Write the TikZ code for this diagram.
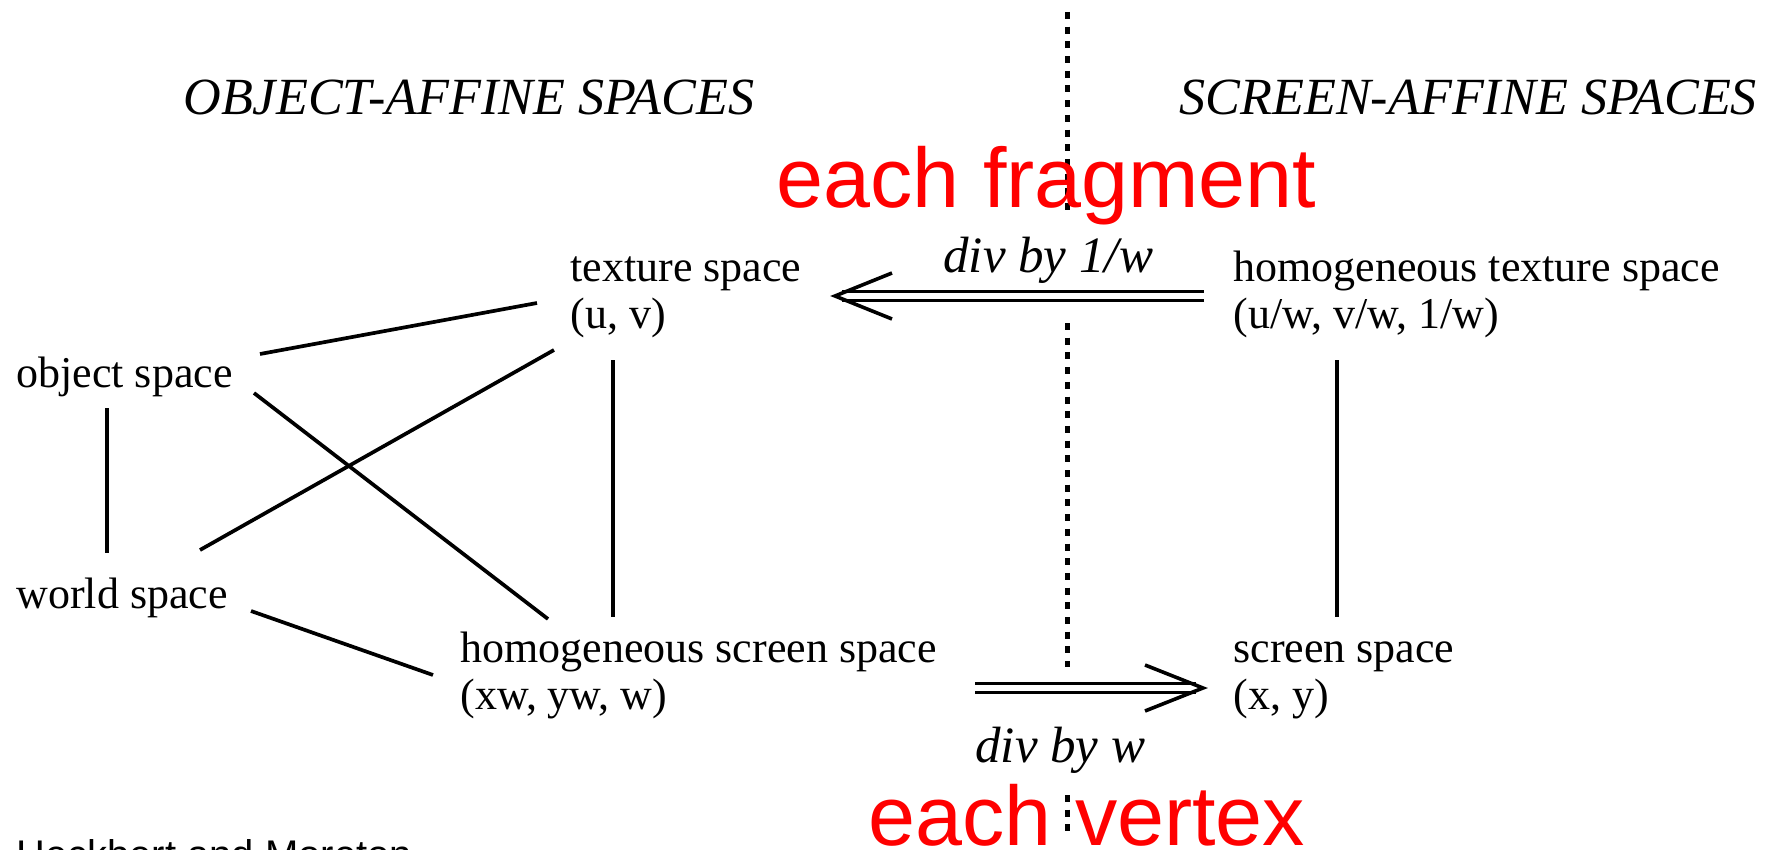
\documentclass[tikz,border=0pt]{standalone}
\usepackage{fontspec}
\setmainfont{Liberation Serif}
\newfontfamily\redsans{Liberation Sans}
\begin{document}
\begin{tikzpicture}[x=0.5pt,y=-0.5pt,
  lbl/.style={inner sep=0pt, anchor=base west, font=\fontsize{22}{23.5}\selectfont},
  head/.style={inner sep=0pt, anchor=base west, font=\fontsize{26.1}{28}\selectfont\itshape},
  divlbl/.style={inner sep=0pt, anchor=base west, font=\fontsize{25.5}{28}\selectfont\itshape},
  redlbl/.style={inner sep=0pt, anchor=base west, text=red, font=\redsans\fontsize{42.25}{48}\selectfont},
  heck/.style={inner sep=0pt, anchor=base west, font=\redsans\fontsize{20}{24}\selectfont},
  conn/.style={line width=1.85pt},
  sepline/.style={line width=2.5pt, dash pattern=on 3.5pt off 3.85pt},
  dbl/.style={line width=1.7pt, double, double distance=2.8pt},
  barb/.style={line width=1.8pt}
]
\useasboundingbox (0,0) rectangle (1772,850);
\clip (0,0) rectangle (1772,850);
\fill[white] (0,0) rectangle (1772,850);

% separator (dotted)
\coordinate (d1a) at (1067,12);  \coordinate (d1b) at (1067,212);
\coordinate (d2a) at (1067,323); \coordinate (d2b) at (1067,667);
\coordinate (d3a) at (1067,795); \coordinate (d3b) at (1067,835);
\draw[sepline] (d1a) -- (d1b);
\draw[sepline] (d2a) -- (d2b);
\draw[sepline] (d3a) -- (d3b);

% headings and labels
\node[head] (objhead) at (183,115) {OBJECT-AFFINE SPACES};
\node[head] (scrhead) at (1179,115) {SCREEN-AFFINE SPACES};
\node[redlbl] (frag) at (776,208) {each fragment};
\node[redlbl] (vert) at (868,845) {each vertex};
\node[divlbl] (div1) at (943,273) {div by 1/w};
\node[divlbl] (divw) at (975,762) {div by w};

\node[lbl] (tex) at (570,282) {\begin{tabular}[t]{@{}l@{}}texture space\\(u, v)\end{tabular}};
\node[lbl] (htex) at (1233,282) {\begin{tabular}[t]{@{}l@{}}homogeneous texture space\\(u/w, v/w, 1/w)\end{tabular}};
\node[lbl] (obj) at (16,387) {object space};
\node[lbl] (world) at (16,608) {world space};
\node[lbl] (hscr) at (460,662) {\begin{tabular}[t]{@{}l@{}}homogeneous screen space\\(xw, yw, w)\end{tabular}};
\node[lbl] (scr) at (1233,662) {\begin{tabular}[t]{@{}l@{}}screen space\\(x, y)\end{tabular}};
\node[heck] (credit) at (16,868) {Heckbert and Moreton};

% connector end points
\coordinate (objT) at (260,354);   \coordinate (texO) at (537,303);
\coordinate (objH) at (254,393);   \coordinate (hscrO) at (548,619);
\coordinate (worT) at (200,550);   \coordinate (texW) at (554,350);
\coordinate (worH) at (251,611);   \coordinate (hscrW) at (433,675);
\coordinate (objW) at (107,408);   \coordinate (worO) at (107,553);
\coordinate (texH) at (613,360);   \coordinate (hscrT) at (613,617);
\coordinate (htexS) at (1337,360); \coordinate (scrH) at (1337,617);

\draw[conn] (objT) -- (texO);
\draw[conn] (objH) -- (hscrO);
\draw[conn] (worT) -- (texW);
\draw[conn] (worH) -- (hscrW);
\draw[conn] (objW) -- (worO);
\draw[conn] (texH) -- (hscrT);
\draw[conn] (htexS) -- (scrH);

% double arrow: homogeneous texture -> texture
\coordinate (tStart) at (1204,296);
\coordinate (tShaft) at (842,296);
\coordinate (tTip) at (835,296);
\coordinate (tB1) at (892,273);
\coordinate (tB2) at (892,319);
\draw[dbl] (tStart) -- (tShaft);
\draw[barb] (tB1) -- (tTip) -- (tB2);

% double arrow: homogeneous screen -> screen
\coordinate (bStart) at (975,688);
\coordinate (bShaft) at (1196,688);
\coordinate (bTip) at (1203,688);
\coordinate (bB1) at (1145,665);
\coordinate (bB2) at (1145,711);
\draw[dbl] (bStart) -- (bShaft);
\draw[barb] (bB1) -- (bTip) -- (bB2);
\end{tikzpicture}
\end{document}
